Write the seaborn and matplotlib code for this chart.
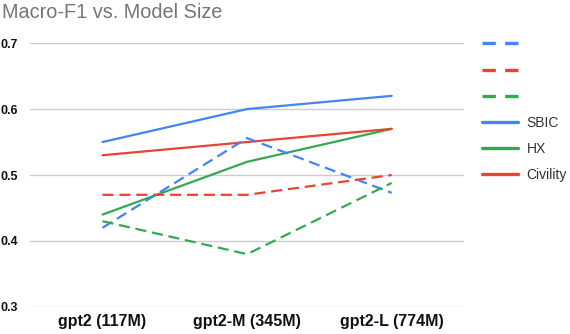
import numpy as np
import pandas as pd
import matplotlib
matplotlib.use("Agg")
import matplotlib.pyplot as plt
import seaborn as sns
from matplotlib.lines import Line2D

models = ["gpt2 (117M)", "gpt2-M (345M)", "gpt2-L (774M)"]

sbic_dashed = [0.42, 0.556, 0.473]
civility_dashed = [0.47, 0.47, 0.50]
hx_dashed = [0.43, 0.38, 0.488]
sbic = [0.55, 0.60, 0.62]
hx = [0.44, 0.52, 0.57]
civility = [0.53, 0.55, 0.57]

blue = "#4285F4"
red = "#EA4335"
green = "#34A853"

series = [
    ("sbic_dashed", sbic_dashed, blue, True, ""),
    ("civility_dashed", civility_dashed, red, True, ""),
    ("hx_dashed", hx_dashed, green, True, ""),
    ("SBIC", sbic, blue, False, "SBIC"),
    ("HX", hx, green, False, "HX"),
    ("Civility", civility, red, False, "Civility"),
]

sns.set_style("white")
plt.rcParams["font.family"] = ["Liberation Sans", "DejaVu Sans"]

fig = plt.figure(figsize=(5.7, 3.34), dpi=100)
ax = fig.add_axes([0.053, 0.081, 0.761, 0.790])

handles = []
labels = []
# solid lines first, dashed on top
order = [3, 4, 5, 0, 1, 2]
for i in order:
    name, vals, col, dashed, lab = series[i]
    df = pd.DataFrame({"model": models, "f1": vals})
    sns.lineplot(data=df, x="model", y="f1", ax=ax, color=col, linewidth=1.6,
                 sort=False, dashes=False)
    ln = ax.get_lines()[-1]
    if dashed:
        ln.set_dashes((5, 2.6))
for name, vals, col, dashed, lab in series:
    h = Line2D([0], [0], color=col, linewidth=2.4,
               linestyle=(0, (4, 2.8)) if dashed else "-")
    handles.append(h)
    labels.append(lab)

ax.set_xlim(-0.5, 2.5)
ax.set_ylim(0.3, 0.7)
ax.set_yticks([0.3, 0.4, 0.5, 0.6, 0.7])
ax.set_yticklabels(["0.3", "0.4", "0.5", "0.6", "0.7"])
ax.yaxis.grid(True, color="#cccccc", linewidth=1)
ax.xaxis.grid(False)
for s in ax.spines.values():
    s.set_visible(False)
ax.tick_params(axis="both", length=0)
ax.tick_params(axis="x", pad=5)
ax.tick_params(axis="y", pad=9)
for t in ax.get_yticklabels():
    t.set_fontweight("bold")
    t.set_fontsize(9)
    t.set_color("#111111")
for t in ax.get_xticklabels():
    t.set_fontweight("bold")
    t.set_fontsize(11.5)
    t.set_color("#111111")
ax.set_xlabel("")
ax.set_ylabel("")

fig.text(0.004, 0.992, "Macro-F1 vs. Model Size", ha="left", va="top",
         fontsize=14.3, color="#757575")

leg = fig.legend(handles, labels, loc="upper left",
                 bbox_to_anchor=(0.836, 0.905), frameon=False,
                 fontsize=10, handlelength=2.6, labelspacing=0.87,
                 handletextpad=0.6, borderaxespad=0.0)
for t in leg.get_texts():
    t.set_color("#333333")

fig.savefig("out.png", dpi=100)
